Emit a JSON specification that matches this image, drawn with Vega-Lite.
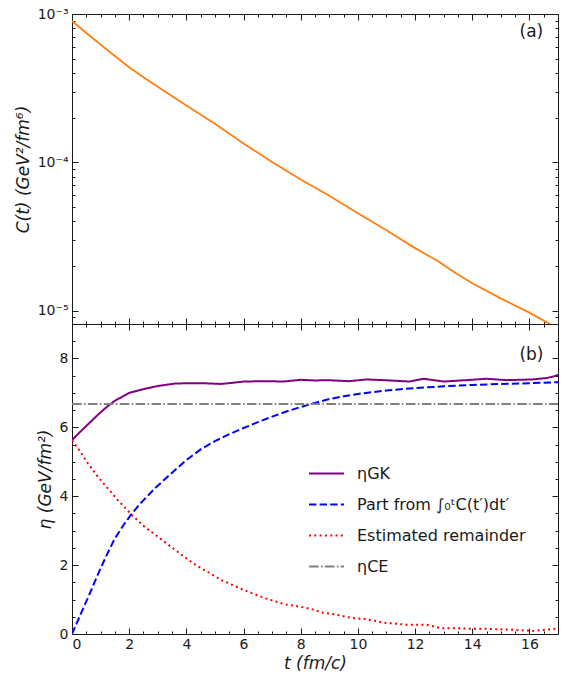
{
  "$schema": "https://vega.github.io/schema/vega-lite/v6.json",
  "padding": {"left": 13, "top": 6, "right": 7, "bottom": 5},
  "config": {
    "background": "white",
    "font": "DejaVu Sans",
    "view": {"stroke": "#1a1a1a", "strokeWidth": 1},
    "axis": {
      "labelFont": "DejaVu Sans", "titleFont": "DejaVu Sans",
      "labelFontSize": 14, "titleFontSize": 17, "titleFontWeight": "normal",
      "titleFontStyle": "italic", "labelColor": "#1a1a1a", "titleColor": "#1a1a1a",
      "tickColor": "#1a1a1a", "tickWidth": 1, "domain": false, "grid": false
    }
  },
  "datasets": {
    "corr": [
      {"t": 0, "C": 8.97e-4}, {"t": 0.5, "C": 7.45e-4}, {"t": 1, "C": 6.22e-4},
      {"t": 1.5, "C": 5.21e-4}, {"t": 2, "C": 4.38e-4}, {"t": 2.5, "C": 3.74e-4},
      {"t": 3, "C": 3.23e-4}, {"t": 4, "C": 2.42e-4}, {"t": 5, "C": 1.82e-4},
      {"t": 6, "C": 1.34e-4}, {"t": 7, "C": 1.005e-4}, {"t": 8, "C": 7.66e-5},
      {"t": 9, "C": 5.96e-5}, {"t": 10, "C": 4.53e-5}, {"t": 11, "C": 3.49e-5},
      {"t": 12, "C": 2.64e-5}, {"t": 12.5, "C": 2.33e-5}, {"t": 12.8, "C": 2.16e-5},
      {"t": 13.1, "C": 1.97e-5}, {"t": 13.5, "C": 1.75e-5}, {"t": 14, "C": 1.53e-5},
      {"t": 15, "C": 1.21e-5}, {"t": 16, "C": 9.7e-6}, {"t": 16.7, "C": 8.15e-6},
      {"t": 17, "C": 7.6e-6}
    ],
    "eta": [
      {"t": 0, "v": 5.63, "s": "ηGK"}, {"t": 0.3, "v": 5.88, "s": "ηGK"},
      {"t": 0.6, "v": 6.12, "s": "ηGK"}, {"t": 0.9, "v": 6.36, "s": "ηGK"},
      {"t": 1.2, "v": 6.58, "s": "ηGK"}, {"t": 1.5, "v": 6.77, "s": "ηGK"},
      {"t": 2, "v": 7.0, "s": "ηGK"}, {"t": 2.5, "v": 7.11, "s": "ηGK"},
      {"t": 3, "v": 7.2, "s": "ηGK"}, {"t": 3.6, "v": 7.27, "s": "ηGK"},
      {"t": 4, "v": 7.28, "s": "ηGK"}, {"t": 4.6, "v": 7.28, "s": "ηGK"},
      {"t": 5.2, "v": 7.26, "s": "ηGK"}, {"t": 5.6, "v": 7.29, "s": "ηGK"},
      {"t": 6, "v": 7.33, "s": "ηGK"}, {"t": 6.8, "v": 7.34, "s": "ηGK"},
      {"t": 7.4, "v": 7.33, "s": "ηGK"}, {"t": 8, "v": 7.38, "s": "ηGK"},
      {"t": 8.5, "v": 7.36, "s": "ηGK"}, {"t": 8.9, "v": 7.37, "s": "ηGK"},
      {"t": 9.7, "v": 7.34, "s": "ηGK"}, {"t": 10.3, "v": 7.39, "s": "ηGK"},
      {"t": 10.9, "v": 7.37, "s": "ηGK"}, {"t": 11.8, "v": 7.33, "s": "ηGK"},
      {"t": 12.3, "v": 7.41, "s": "ηGK"}, {"t": 13, "v": 7.33, "s": "ηGK"},
      {"t": 13.8, "v": 7.37, "s": "ηGK"}, {"t": 14.5, "v": 7.41, "s": "ηGK"},
      {"t": 15.2, "v": 7.37, "s": "ηGK"}, {"t": 16.1, "v": 7.39, "s": "ηGK"},
      {"t": 16.6, "v": 7.43, "s": "ηGK"}, {"t": 16.85, "v": 7.48, "s": "ηGK"},
      {"t": 17, "v": 7.52, "s": "ηGK"},

      {"t": 0, "v": 0, "s": "Part from ∫₀ᵗC(t′)dt′"}, {"t": 0.33, "v": 0.63, "s": "Part from ∫₀ᵗC(t′)dt′"},
      {"t": 0.62, "v": 1.17, "s": "Part from ∫₀ᵗC(t′)dt′"}, {"t": 0.91, "v": 1.74, "s": "Part from ∫₀ᵗC(t′)dt′"},
      {"t": 1.2, "v": 2.27, "s": "Part from ∫₀ᵗC(t′)dt′"}, {"t": 1.49, "v": 2.76, "s": "Part from ∫₀ᵗC(t′)dt′"},
      {"t": 1.79, "v": 3.15, "s": "Part from ∫₀ᵗC(t′)dt′"}, {"t": 2.08, "v": 3.48, "s": "Part from ∫₀ᵗC(t′)dt′"},
      {"t": 2.37, "v": 3.77, "s": "Part from ∫₀ᵗC(t′)dt′"}, {"t": 2.89, "v": 4.22, "s": "Part from ∫₀ᵗC(t′)dt′"},
      {"t": 3.36, "v": 4.58, "s": "Part from ∫₀ᵗC(t′)dt′"}, {"t": 4, "v": 5.05, "s": "Part from ∫₀ᵗC(t′)dt′"},
      {"t": 4.5, "v": 5.36, "s": "Part from ∫₀ᵗC(t′)dt′"}, {"t": 5, "v": 5.6, "s": "Part from ∫₀ᵗC(t′)dt′"},
      {"t": 5.5, "v": 5.8, "s": "Part from ∫₀ᵗC(t′)dt′"}, {"t": 6, "v": 5.98, "s": "Part from ∫₀ᵗC(t′)dt′"},
      {"t": 6.5, "v": 6.15, "s": "Part from ∫₀ᵗC(t′)dt′"}, {"t": 7, "v": 6.31, "s": "Part from ∫₀ᵗC(t′)dt′"},
      {"t": 7.5, "v": 6.46, "s": "Part from ∫₀ᵗC(t′)dt′"}, {"t": 8, "v": 6.59, "s": "Part from ∫₀ᵗC(t′)dt′"},
      {"t": 8.5, "v": 6.71, "s": "Part from ∫₀ᵗC(t′)dt′"}, {"t": 9, "v": 6.82, "s": "Part from ∫₀ᵗC(t′)dt′"},
      {"t": 9.5, "v": 6.9, "s": "Part from ∫₀ᵗC(t′)dt′"}, {"t": 10, "v": 6.97, "s": "Part from ∫₀ᵗC(t′)dt′"},
      {"t": 11, "v": 7.07, "s": "Part from ∫₀ᵗC(t′)dt′"}, {"t": 12, "v": 7.14, "s": "Part from ∫₀ᵗC(t′)dt′"},
      {"t": 13, "v": 7.19, "s": "Part from ∫₀ᵗC(t′)dt′"}, {"t": 14, "v": 7.23, "s": "Part from ∫₀ᵗC(t′)dt′"},
      {"t": 15, "v": 7.26, "s": "Part from ∫₀ᵗC(t′)dt′"}, {"t": 16, "v": 7.28, "s": "Part from ∫₀ᵗC(t′)dt′"},
      {"t": 17, "v": 7.31, "s": "Part from ∫₀ᵗC(t′)dt′"},

      {"t": 0, "v": 5.62, "s": "Estimated remainder"}, {"t": 0.21, "v": 5.39, "s": "Estimated remainder"},
      {"t": 0.56, "v": 4.95, "s": "Estimated remainder"}, {"t": 0.91, "v": 4.56, "s": "Estimated remainder"},
      {"t": 1.26, "v": 4.22, "s": "Estimated remainder"}, {"t": 1.61, "v": 3.88, "s": "Estimated remainder"},
      {"t": 2.08, "v": 3.47, "s": "Estimated remainder"}, {"t": 2.54, "v": 3.11, "s": "Estimated remainder"},
      {"t": 3.01, "v": 2.82, "s": "Estimated remainder"}, {"t": 3.48, "v": 2.52, "s": "Estimated remainder"},
      {"t": 3.94, "v": 2.23, "s": "Estimated remainder"}, {"t": 4.35, "v": 1.99, "s": "Estimated remainder"},
      {"t": 4.75, "v": 1.8, "s": "Estimated remainder"}, {"t": 5.24, "v": 1.56, "s": "Estimated remainder"},
      {"t": 6, "v": 1.28, "s": "Estimated remainder"}, {"t": 6.75, "v": 1.04, "s": "Estimated remainder"},
      {"t": 7.45, "v": 0.86, "s": "Estimated remainder"}, {"t": 8, "v": 0.79, "s": "Estimated remainder"},
      {"t": 8.5, "v": 0.7, "s": "Estimated remainder"}, {"t": 8.7, "v": 0.63, "s": "Estimated remainder"},
      {"t": 9.2, "v": 0.57, "s": "Estimated remainder"}, {"t": 9.75, "v": 0.47, "s": "Estimated remainder"},
      {"t": 10.3, "v": 0.43, "s": "Estimated remainder"}, {"t": 10.9, "v": 0.33, "s": "Estimated remainder"},
      {"t": 11.7, "v": 0.27, "s": "Estimated remainder"}, {"t": 12.4, "v": 0.27, "s": "Estimated remainder"},
      {"t": 12.9, "v": 0.17, "s": "Estimated remainder"}, {"t": 13.5, "v": 0.17, "s": "Estimated remainder"},
      {"t": 14, "v": 0.15, "s": "Estimated remainder"}, {"t": 14.5, "v": 0.15, "s": "Estimated remainder"},
      {"t": 15.2, "v": 0.13, "s": "Estimated remainder"}, {"t": 15.9, "v": 0.1, "s": "Estimated remainder"},
      {"t": 16.1, "v": 0.09, "s": "Estimated remainder"}, {"t": 16.6, "v": 0.13, "s": "Estimated remainder"},
      {"t": 17, "v": 0.16, "s": "Estimated remainder"},

      {"t": 0, "v": 6.68, "s": "ηCE"}, {"t": 17, "v": 6.68, "s": "ηCE"}
    ],
    "tagA": [{"t": 16.07, "C": 7.55e-4, "label": "(a)"}],
    "tagB": [{"t": 16.07, "v": 8.11, "label": "(b)"}]
  },
  "vconcat": [
    {
      "width": 486,
      "height": 310,
      "layer": [
        {
          "data": {"name": "corr"},
          "mark": {"type": "line", "color": "#ff7f0e", "strokeWidth": 1.8, "clip": true},
          "encoding": {
            "x": {"field": "t", "type": "quantitative", "scale": {"domain": [0, 17], "nice": false},
              "axis": {"orient": "bottom", "values": [0, 2, 4, 6, 8, 10, 12, 14, 16], "labels": false, "tickSize": -6, "title": null}},
            "y": {"field": "C", "type": "quantitative",
              "scale": {"type": "log", "domain": [8.13e-6, 0.001], "nice": false},
              "axis": {"orient": "left", "values": [0.00001, 0.0001, 0.001], "tickSize": -6, "labelPadding": 10,
                "labelExpr": "datum.value > 0.0005 ? '10⁻³' : datum.value > 0.00005 ? '10⁻⁴' : '10⁻⁵'",
                "title": "C(t) (GeV²/fm⁶)", "titlePadding": 5}}
          }
        },
        {
          "data": {"name": "tagA"},
          "mark": {"type": "point", "opacity": 0},
          "encoding": {
            "x": {"field": "t", "type": "quantitative",
              "axis": {"orient": "top", "values": [0, 2, 4, 6, 8, 10, 12, 14, 16], "labels": false, "tickSize": -6, "title": null}},
            "y": {"field": "C", "type": "quantitative",
              "axis": {"orient": "right", "values": [0.00001, 0.0001, 0.001], "labels": false, "tickSize": -6, "title": null}}
          }
        },
        {
          "data": {"name": "tagA"},
          "mark": {"type": "point", "opacity": 0},
          "encoding": {
            "x": {"field": "t", "type": "quantitative",
              "axis": {"orient": "bottom", "values": [0.5, 1, 1.5, 2.5, 3, 3.5, 4.5, 5, 5.5, 6.5, 7, 7.5, 8.5, 9, 9.5, 10.5, 11, 11.5, 12.5, 13, 13.5, 14.5, 15, 15.5, 16.5], "labels": false, "tickSize": -3, "title": null}},
            "y": {"field": "C", "type": "quantitative",
              "axis": {"orient": "left", "values": [0.000009, 0.00002, 0.00003, 0.00004, 0.00005, 0.00006, 0.00007, 0.00008, 0.00009, 0.0002, 0.0003, 0.0004, 0.0005, 0.0006, 0.0007, 0.0008, 0.0009], "labels": false, "tickSize": -3, "title": null}}
          }
        },
        {
          "data": {"name": "tagA"},
          "mark": {"type": "point", "opacity": 0},
          "encoding": {
            "x": {"field": "t", "type": "quantitative",
              "axis": {"orient": "top", "values": [0.5, 1, 1.5, 2.5, 3, 3.5, 4.5, 5, 5.5, 6.5, 7, 7.5, 8.5, 9, 9.5, 10.5, 11, 11.5, 12.5, 13, 13.5, 14.5, 15, 15.5, 16.5], "labels": false, "tickSize": -3, "title": null}},
            "y": {"field": "C", "type": "quantitative",
              "axis": {"orient": "right", "values": [0.000009, 0.00002, 0.00003, 0.00004, 0.00005, 0.00006, 0.00007, 0.00008, 0.00009, 0.0002, 0.0003, 0.0004, 0.0005, 0.0006, 0.0007, 0.0008, 0.0009], "labels": false, "tickSize": -3, "title": null}}
          }
        },
        {
          "data": {"name": "tagA"},
          "mark": {"type": "text", "fontSize": 17, "font": "DejaVu Sans", "color": "#1a1a1a"},
          "encoding": {
            "x": {"field": "t", "type": "quantitative", "axis": null},
            "y": {"field": "C", "type": "quantitative", "axis": null},
            "text": {"field": "label"}
          }
        }
      ],
      "resolve": {"axis": {"x": "independent", "y": "independent"}}
    },
    {
      "width": 486,
      "height": 310,
      "layer": [
        {
          "data": {"name": "eta"},
          "mark": {"type": "line", "strokeWidth": 2, "clip": true},
          "encoding": {
            "x": {"field": "t", "type": "quantitative", "scale": {"domain": [0, 17], "nice": false},
              "axis": {"orient": "bottom", "values": [0, 2, 4, 6, 8, 10, 12, 14, 16], "tickSize": -6, "labelPadding": 9,
                "title": "t (fm/c)", "titlePadding": 4}},
            "y": {"field": "v", "type": "quantitative", "scale": {"domain": [0, 9], "nice": false},
              "axis": {"orient": "left", "values": [0, 2, 4, 6, 8], "tickSize": -6, "labelPadding": 10,
                "title": "η (GeV/fm²)", "titlePadding": 5}},
            "color": {"field": "s", "type": "nominal",
              "scale": {"domain": ["ηGK", "Part from ∫₀ᵗC(t′)dt′", "Estimated remainder", "ηCE"],
                "range": ["#800080", "#0000ff", "#ff0000", "#808080"]},
              "legend": {"orient": "none", "legendX": 236, "legendY": 131, "title": null,
                "symbolType": "stroke", "symbolSize": 1225, "symbolStrokeWidth": 2,
                "labelFontSize": 16, "labelFont": "DejaVu Sans", "labelColor": "#1a1a1a",
                "labelOffset": 12, "rowPadding": 4, "labelLimit": 300}},
            "strokeDash": {"field": "s", "type": "nominal",
              "scale": {"domain": ["ηGK", "Part from ∫₀ᵗC(t′)dt′", "Estimated remainder", "ηCE"],
                "range": [[1, 0], [7.4, 3.2], [2, 3.3], [9.6, 2.4, 1.5, 2.4]]},
              "legend": {"orient": "none", "legendX": 236, "legendY": 131, "title": null,
                "symbolType": "stroke", "symbolSize": 1225, "symbolStrokeWidth": 2,
                "labelFontSize": 16, "labelFont": "DejaVu Sans", "labelColor": "#1a1a1a",
                "labelOffset": 12, "rowPadding": 4, "labelLimit": 300}}
          }
        },
        {
          "data": {"name": "tagB"},
          "mark": {"type": "point", "opacity": 0},
          "encoding": {
            "x": {"field": "t", "type": "quantitative",
              "axis": {"orient": "top", "values": [0, 2, 4, 6, 8, 10, 12, 14, 16], "labels": false, "tickSize": -6, "title": null}},
            "y": {"field": "v", "type": "quantitative",
              "axis": {"orient": "right", "values": [0, 2, 4, 6, 8], "labels": false, "tickSize": -6, "title": null}}
          }
        },
        {
          "data": {"name": "tagB"},
          "mark": {"type": "point", "opacity": 0},
          "encoding": {
            "x": {"field": "t", "type": "quantitative",
              "axis": {"orient": "bottom", "values": [0.5, 1, 1.5, 2.5, 3, 3.5, 4.5, 5, 5.5, 6.5, 7, 7.5, 8.5, 9, 9.5, 10.5, 11, 11.5, 12.5, 13, 13.5, 14.5, 15, 15.5, 16.5], "labels": false, "tickSize": -3, "title": null}},
            "y": {"field": "v", "type": "quantitative",
              "axis": {"orient": "left", "values": [0.5, 1, 1.5, 2.5, 3, 3.5, 4.5, 5, 5.5, 6.5, 7, 7.5, 8.5], "labels": false, "tickSize": -3, "title": null}}
          }
        },
        {
          "data": {"name": "tagB"},
          "mark": {"type": "point", "opacity": 0},
          "encoding": {
            "x": {"field": "t", "type": "quantitative",
              "axis": {"orient": "top", "values": [0.5, 1, 1.5, 2.5, 3, 3.5, 4.5, 5, 5.5, 6.5, 7, 7.5, 8.5, 9, 9.5, 10.5, 11, 11.5, 12.5, 13, 13.5, 14.5, 15, 15.5, 16.5], "labels": false, "tickSize": -3, "title": null}},
            "y": {"field": "v", "type": "quantitative",
              "axis": {"orient": "right", "values": [0.5, 1, 1.5, 2.5, 3, 3.5, 4.5, 5, 5.5, 6.5, 7, 7.5, 8.5], "labels": false, "tickSize": -3, "title": null}}
          }
        },
        {
          "data": {"name": "tagB"},
          "mark": {"type": "text", "fontSize": 17, "font": "DejaVu Sans", "color": "#1a1a1a"},
          "encoding": {
            "x": {"field": "t", "type": "quantitative", "axis": null},
            "y": {"field": "v", "type": "quantitative", "axis": null},
            "text": {"field": "label"}
          }
        }
      ],
      "resolve": {"axis": {"x": "independent", "y": "independent"}}
    }
  ],
  "spacing": 0,
  "bounds": "flush",
  "resolve": {"legend": {"color": "independent", "strokeDash": "independent"}}
}
